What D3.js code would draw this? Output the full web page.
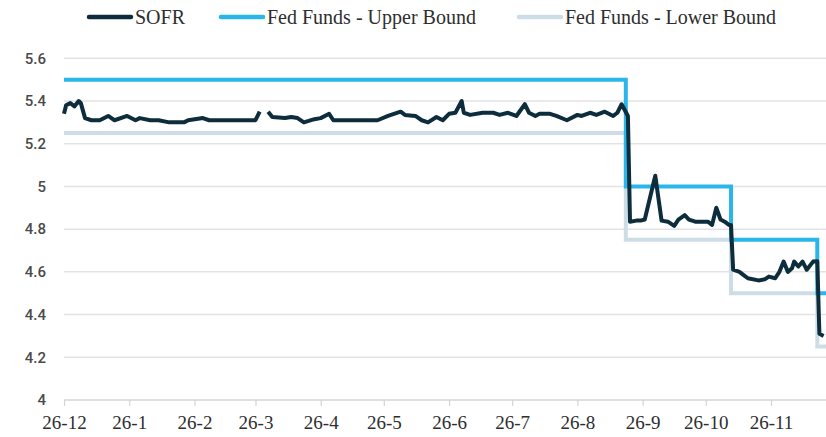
<!DOCTYPE html>
<html>
<head>
<meta charset="utf-8">
<script src="https://cdn.jsdelivr.net/npm/d3@7"></script>
<style>
    body { margin: 0; background: #fff; }
    .ylab { font-family: Roboto, "Noto Sans", sans-serif; font-size: 15px; font-weight: 500; fill: #4a4a4a; }
    .xlab { font-family: "Liberation Serif", serif; font-size: 19px; fill: #2e2e2e; }
    .leg { font-family: "Liberation Serif", serif; font-size: 20px; fill: #2e2e2e; }
</style>
</head>
<body>
<svg id="chart"></svg>
<script>
let width = 826,
    height = 437;

// SOFR daily fixings, null = missing day
let sofrDates = [
    "2023-12-26","2023-12-27","2023-12-29","2023-12-31","2024-01-02","2024-01-03","2024-01-05","2024-01-08",
    "2024-01-12","2024-01-16","2024-01-19","2024-01-25","2024-01-29","2024-01-31","2024-02-05","2024-02-09",
    "2024-02-14","2024-02-21","2024-02-23","2024-03-01","2024-03-04","2024-03-26","2024-03-27","2024-03-28",
    "2024-03-29","2024-04-01","2024-04-03","2024-04-09","2024-04-12","2024-04-15","2024-04-18","2024-04-23",
    "2024-04-26","2024-04-30","2024-05-02","2024-05-23","2024-05-28","2024-06-03","2024-06-05","2024-06-10",
    "2024-06-13","2024-06-16","2024-06-20","2024-06-23","2024-06-26","2024-06-29","2024-07-02","2024-07-03",
    "2024-07-06","2024-07-12","2024-07-17","2024-07-20","2024-07-24","2024-07-28","2024-08-01","2024-08-03",
    "2024-08-06","2024-08-08","2024-08-13","2024-08-16","2024-08-21","2024-08-26","2024-08-28","2024-09-01",
    "2024-09-04","2024-09-08","2024-09-12","2024-09-14","2024-09-16","2024-09-19","2024-09-20","2024-09-23",
    "2024-09-25","2024-09-27","2024-10-02","2024-10-05","2024-10-08","2024-10-11","2024-10-13","2024-10-16",
    "2024-10-18","2024-10-21","2024-10-27","2024-10-29","2024-10-31","2024-11-02","2024-11-04","2024-11-06",
    "2024-11-07","2024-11-08","2024-11-11","2024-11-13","2024-11-15","2024-11-20","2024-11-23","2024-11-25",
    "2024-11-28","2024-11-30","2024-12-02","2024-12-04","2024-12-06","2024-12-07","2024-12-09","2024-12-11",
    "2024-12-13","2024-12-16","2024-12-18","2024-12-19","2024-12-21"
];
let sofrValues = [
    5.34, 5.38, 5.39, 5.375, 5.40, 5.39, 5.32, 5.31,
    5.31, 5.33, 5.31, 5.33, 5.31, 5.32, 5.31, 5.31,
    5.30, 5.30, 5.31, 5.32, 5.31, 5.31, 5.33, 5.35,
    null, 5.35, 5.325, 5.32, 5.325, 5.32, 5.30, 5.315,
    5.32, 5.34, 5.31, 5.31, 5.33, 5.35, 5.335, 5.33,
    5.31, 5.30, 5.325, 5.31, 5.34, 5.345, 5.40, 5.345,
    5.335, 5.345, 5.345, 5.335, 5.345, 5.33, 5.385, 5.345,
    5.33, 5.34, 5.34, 5.33, 5.31, 5.335, 5.33, 5.345,
    5.335, 5.35, 5.33, 5.345, 5.385, 5.33, 4.835, 4.84,
    4.84, 4.845, 5.05, 4.84, 4.835, 4.815, 4.845, 4.866,
    4.845, 4.835, 4.835, 4.82, 4.90, 4.845, 4.835, 4.82,
    4.82, 4.61, 4.60, 4.585, 4.57, 4.56, 4.565, 4.578,
    4.57, 4.60, 4.648, 4.60, 4.617, 4.648, 4.625, 4.648,
    4.61, 4.648, 4.65, 4.31, 4.30
];

// Fed funds target range, changes on these dates
let fedDates = ["2023-12-26", "2024-09-18", "2024-11-07", "2024-12-18", "2024-12-26"];
let upperValues = [5.5, 5.0, 4.75, 4.5, 4.5];
let lowerValues = [5.25, 4.75, 4.5, 4.25, 4.25];

let tickDates = ["2023-12-26","2024-01-26","2024-02-26","2024-03-26","2024-04-26","2024-05-26",
    "2024-06-26","2024-07-26","2024-08-26","2024-09-26","2024-10-26","2024-11-26"];
let yTicks = [4, 4.2, 4.4, 4.6, 4.8, 5, 5.2, 5.4, 5.6];

let legendText = ["SOFR", "Fed Funds - Upper Bound", "Fed Funds - Lower Bound"];
let colors = ["#0d2d3d", "#2bb6ea", "#cddde6"];

let parse = d3.timeParse("%Y-%m-%d");

let x = d3.scaleTime()
    .domain([parse(tickDates[0]), parse(tickDates[tickDates.length - 1])])
    .range([64, 771]);

let y = d3.scaleLinear()
    .domain([4, 5.6])
    .range([400, 58.3]);

let svg = d3.select('#chart')
    .attr('width', width)
    .attr('height', height);

// gridlines
svg.append('g')
    .selectAll('line')
    .data(yTicks)
    .enter()
    .append('line')
    .attr('x1', 64)
    .attr('x2', width)
    .attr('y1', d => y(d))
    .attr('y2', d => y(d))
    .style('stroke', d => d === 4 ? '#d4d4d4' : '#e3e3e3')
    .style('stroke-width', 1.5);

svg.append('g')
    .selectAll('text')
    .data(yTicks)
    .enter()
    .append('text')
    .attr('class', 'ylab')
    .attr('x', 46)
    .attr('y', d => y(d))
    .attr('dy', '0.35em')
    .attr('text-anchor', 'end')
    .text(d => d3.format('~g')(d));

// x axis
let xAxis = d3.axisBottom(x)
    .tickValues(tickDates.map(parse))
    .tickFormat(d3.timeFormat("%d-%-m"))
    .tickSize(6)
    .tickPadding(10);

let gx = svg.append('g')
    .attr('transform', 'translate(0,' + y(4) + ')')
    .call(xAxis);
gx.select('.domain').remove();
gx.selectAll('.tick line').style('stroke', '#d4d4d4').style('stroke-width', 1.2);
gx.selectAll('.tick text').attr('class', 'xlab').attr('font-family', null).attr('font-size', null);

// series
let sofr = sofrDates.map((d, i) => ({date: parse(d), v: sofrValues[i]}));
let upper = fedDates.map((d, i) => ({date: parse(d), v: upperValues[i]}));
let lower = fedDates.map((d, i) => ({date: parse(d), v: lowerValues[i]}));

let stepLine = d3.line()
    .x(d => x(d.date))
    .y(d => y(d.v))
    .curve(d3.curveStepAfter);

let sofrLine = d3.line()
    .defined(d => d.v != null)
    .x(d => x(d.date))
    .y(d => y(d.v));

svg.append('path')
    .datum(lower)
    .attr('d', stepLine)
    .style('fill', 'none')
    .style('stroke', colors[2])
    .style('stroke-width', 4);

svg.append('path')
    .datum(upper)
    .attr('d', stepLine)
    .style('fill', 'none')
    .style('stroke', colors[1])
    .style('stroke-width', 4);

svg.append('path')
    .datum(sofr)
    .attr('d', sofrLine)
    .style('fill', 'none')
    .style('stroke', colors[0])
    .style('stroke-width', 4)
    .style('stroke-linejoin', 'round');

// legend
let legendX = [89, 221, 519];
let legend = svg.append('g')
    .selectAll('g')
    .data(legendText)
    .enter()
    .append('g')
    .attr('transform', (d, i) => 'translate(' + legendX[i] + ',17)');

legend.append('line')
    .attr('x1', 0)
    .attr('x2', 42)
    .style('stroke', (d, i) => colors[i])
    .style('stroke-width', 4.5)
    .style('stroke-linecap', 'round');

legend.append('text')
    .attr('class', 'leg')
    .attr('x', 46)
    .attr('dy', '0.35em')
    .text(d => d);
</script>
</body>
</html>
